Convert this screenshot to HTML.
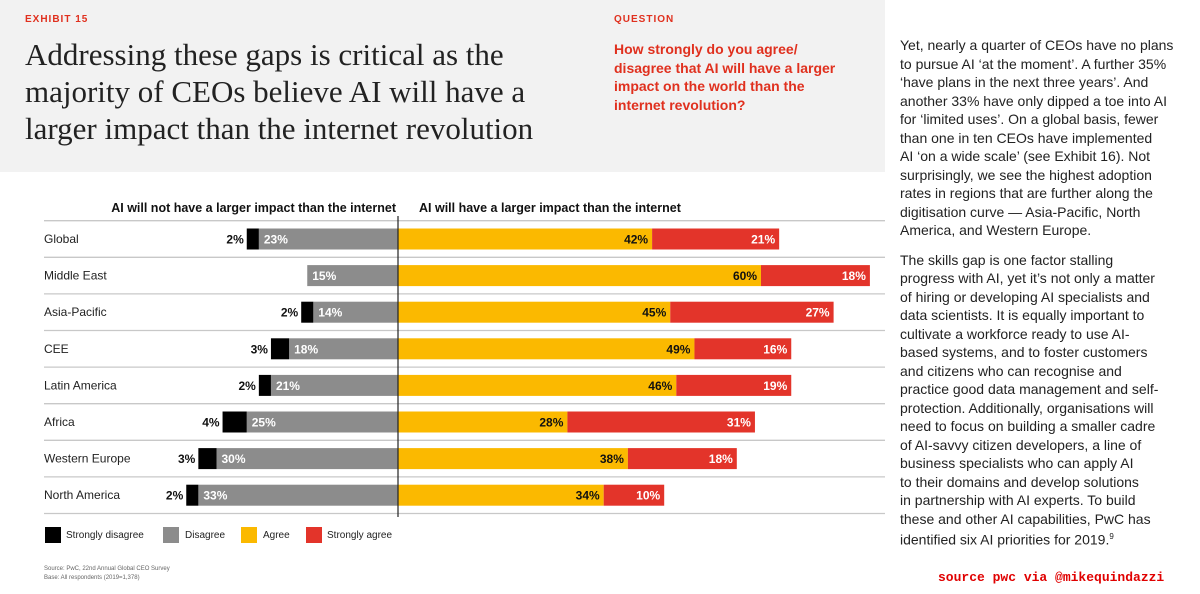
<!DOCTYPE html>
<html><head><meta charset="utf-8"><style>
body{margin:0;width:1200px;height:594px;overflow:hidden;background:#fff;font-family:"Liberation Sans",sans-serif;position:relative}
.abs{position:absolute}
#hdr{left:0;top:0;width:885px;height:172px;background:#f2f2f2}
#rt{left:900px;top:36px;font-size:14px;line-height:18.5px;color:#222;white-space:nowrap}
#rt p{margin:0 0 11px 0}
.tl{display:block;white-space:nowrap}
</style></head><body>
<div id="hdr" class="abs">
<div class="abs" style="left:25px;top:14px;font-size:10px;font-weight:bold;color:#e0301e;letter-spacing:1px">EXHIBIT 15</div>
<div class="abs" style="left:25px;top:36px;font-family:'Liberation Serif',serif;font-size:31px;line-height:37px;color:#222"><span class="tl">Addressing these gaps is critical as the</span><span class="tl">majority of CEOs believe AI will have a</span><span class="tl">larger impact than the internet revolution</span></div>
<div class="abs" style="left:614px;top:14px;font-size:10px;font-weight:bold;color:#e0301e;letter-spacing:1px">QUESTION</div>
<div class="abs" style="left:614px;top:40px;width:240px;font-size:14px;line-height:18.5px;font-weight:bold;color:#e0301e">How strongly do you agree/<br>disagree that AI will have a larger<br>impact on the world than the<br>internet revolution?</div>
</div>
<div id="rt" class="abs">
<p>Yet, nearly a quarter of CEOs have no plans<br>to pursue AI ‘at the moment’. A further 35%<br>‘have plans in the next three years’. And<br>another 33% have only dipped a toe into AI<br>for ‘limited uses’. On a global basis, fewer<br>than one in ten CEOs have implemented<br>AI ‘on a wide scale’ (see Exhibit 16). Not<br>surprisingly, we see the highest adoption<br>rates in regions that are further along the<br>digitisation curve — Asia-Pacific, North<br>America, and Western Europe.</p>
<p>The skills gap is one factor stalling<br>progress with AI, yet it’s not only a matter<br>of hiring or developing AI specialists and<br>data scientists. It is equally important to<br>cultivate a workforce ready to use AI-<br>based systems, and to foster customers<br>and citizens who can recognise and<br>practice good data management and self-<br>protection. Additionally, organisations will<br>need to focus on building a smaller cadre<br>of AI-savvy citizen developers, a line of<br>business specialists who can apply AI<br>to their domains and develop solutions<br>in partnership with AI experts. To build<br>these and other AI capabilities, PwC has<br>identified six AI priorities for 2019.<sup style="font-size:8px">9</sup></p>
</div>
<div class="abs" style="left:938px;top:570px;font-family:'Liberation Mono',monospace;font-weight:bold;font-size:13px;color:#e00000">source pwc via @mikequindazzi</div>
<svg class="abs" style="left:0;top:0" width="885" height="594" id="chart">
<text x="396" y="212" text-anchor="end" font-size="12.5" font-weight="bold" fill="#111">AI will not have a larger impact than the internet</text>
<text x="419" y="212" font-size="12.5" font-weight="bold" fill="#111">AI will have a larger impact than the internet</text>
<g id="grid"></g><g id="bars"></g>
<g font-size="10" fill="#222">
<rect x="45" y="527" width="16" height="16" fill="#000"/><text x="66" y="538">Strongly disagree</text>
<rect x="163" y="527" width="16" height="16" fill="#8c8c8c"/><text x="185" y="538">Disagree</text>
<rect x="241" y="527" width="16" height="16" fill="#fbb900"/><text x="263" y="538">Agree</text>
<rect x="306" y="527" width="16" height="16" fill="#e3342a"/><text x="327" y="538">Strongly agree</text>
</g>
<text x="44" y="570" font-size="6" fill="#666">Source: PwC, 22nd Annual Global CEO Survey</text>
<text x="44" y="579" font-size="6" fill="#666">Base: All respondents (2019=1,378)</text>
</svg>
<script>
const categories=["Global","Middle East","Asia-Pacific","CEE","Latin America","Africa","Western Europe","North America"];
const stronglyDisagree=[2,0,2,3,2,4,3,2];
const disagree=[23,15,14,18,21,25,30,33];
const agree=[42,60,45,49,46,28,38,34];
const stronglyAgree=[21,18,27,16,19,31,18,10];
const NS="http://www.w3.org/2000/svg";
const x0=398,ppu=6.05,y0=239,rowH=36.6,barH=21;
const xs=v=>x0+v*ppu;
const yc=i=>y0+i*rowH;
const g=document.getElementById('grid'),b=document.getElementById('bars');
function mk(tag,at,p){const e=document.createElementNS(NS,tag);for(const k in at)e.setAttribute(k,at[k]);p.appendChild(e);return e;}
for(let i=0;i<=categories.length;i++){
 const l=mk('line',{x1:44,x2:885,y1:yc(i)-rowH/2,y2:yc(i)-rowH/2,stroke:'#c8c8c8','stroke-width':1.3},g);
 
 
}
categories.forEach((c,i)=>{
 const y=yc(i);
 const t=mk('text',{x:44,y:y+4,'font-size':12,fill:'#222'},b);t.textContent=c;
 
 
 const dEnd=xs(-disagree[i]),sEnd=xs(-disagree[i]-stronglyDisagree[i]);
 const r1=mk('rect',{x:dEnd,y:y-barH/2,width:x0-dEnd,height:barH,fill:'#8c8c8c'},b);
 
 
 let tt=mk('text',{x:dEnd+5,y:y+4.5,'font-size':12,'font-weight':'bold',fill:'#fff'},b);tt.textContent=disagree[i]+'%';
 if(stronglyDisagree[i]>0){
  const r2=mk('rect',{x:sEnd,y:y-barH/2,width:dEnd-sEnd,height:barH,fill:'#000'},b);
  
  
  tt=mk('text',{x:sEnd-3,y:y+4.5,'font-size':12,'font-weight':'bold',fill:'#111','text-anchor':'end'},b);tt.textContent=stronglyDisagree[i]+'%';
 }
 const aEnd=xs(agree[i]),saEnd=xs(agree[i]+stronglyAgree[i]);
 const r3=mk('rect',{x:x0,y:y-barH/2,width:aEnd-x0,height:barH,fill:'#fbb900'},b);
 
 
 tt=mk('text',{x:aEnd-4,y:y+4.5,'font-size':12,'font-weight':'bold',fill:'#111','text-anchor':'end'},b);tt.textContent=agree[i]+'%';
 const r4=mk('rect',{x:aEnd,y:y-barH/2,width:saEnd-aEnd,height:barH,fill:'#e3342a'},b);
 
 
 tt=mk('text',{x:saEnd-4,y:y+4.5,'font-size':12,'font-weight':'bold',fill:'#fff','text-anchor':'end'},b);tt.textContent=stronglyAgree[i]+'%';
});
const ax=mk('line',{x1:x0,x2:x0,y1:216,y2:517,stroke:'#222','stroke-width':1.2},b);


</script>
</body></html>
